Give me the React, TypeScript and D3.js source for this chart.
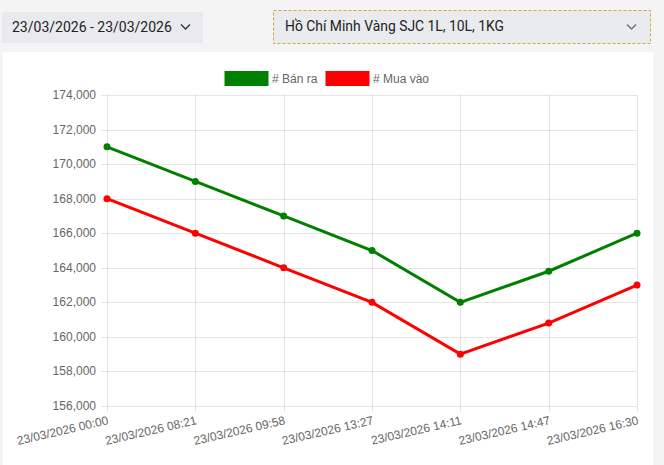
import React from "react";
import * as d3 from "d3";

const categories = [
  "23/03/2026 00:00",
  "23/03/2026 08:21",
  "23/03/2026 09:58",
  "23/03/2026 13:27",
  "23/03/2026 14:11",
  "23/03/2026 14:47",
  "23/03/2026 16:30",
];
const banRa = [171000, 169000, 167000, 165000, 162000, 163800, 166000];
const muaVao = [168000, 166000, 164000, 162000, 159000, 160800, 163000];
const yTicks = [156000, 158000, 160000, 162000, 164000, 166000, 168000, 170000, 172000, 174000];
const seriesNames = ["# Bán ra", "# Mua vào"];
const seriesColors = ["#008000", "#ff0000"];
const dateRange = "23/03/2026 - 23/03/2026";
const selectText = "Hồ Chí Minh Vàng SJC 1L, 10L, 1KG";

export default function App() {
  const W = 664, H = 465;
  const left = 107, right = 637, top = 95, bottom = 406;
  const x = d3.scalePoint<string>().domain(categories).range([left, right]);
  const y = d3.scaleLinear().domain([156000, 174000]).range([bottom, top]);
  const fmt = d3.format(",");
  const line = d3.line<number>().x((_, i) => x(categories[i])!).y((d) => y(d));
  const series = [banRa, muaVao];
  const font = "'Liberation Sans', Arial, sans-serif";

  return (
    <svg width={W} height={H} style={{ position: "absolute", left: 0, top: 0 }}>
      <rect x={0} y={0} width={W} height={H} fill="#f4f4f4" />
      {/* top controls */}
      <rect x={2} y={12} width={201} height={31} fill="#e9eaee" />
      <text x={12} y={32} fontFamily="Roboto, sans-serif" fontSize={14} fill="#222">{dateRange}</text>
      <path d="M181,24.5 L185.5,29 L190,24.5" fill="none" stroke="#333" strokeWidth={1.3} />
      <rect x={273.5} y={10.5} width={377} height={33} fill="#eaebee" stroke="#d9a441" strokeDasharray="3,2" />
      <text x={285} y={31} fontFamily="Roboto, sans-serif" fontSize={13.9} fill="#222">{selectText}</text>
      <path d="M627,24.5 L631.5,29 L636,24.5" fill="none" stroke="#777" strokeWidth={1.5} />
      {/* panel */}
      <rect x={3} y={52} width={650} height={H - 52} fill="#fff" />
      {/* legend */}
      {seriesNames.map((n, i) => {
        const lx = i === 0 ? 225 : 326;
        return (
          <g key={n}>
            <rect x={lx} y={71.5} width={43} height={14} fill={seriesColors[i]} stroke={seriesColors[i]} />
            <text x={lx + 47} y={82.5} fontFamily={font} fontSize={12} fill="#666">{n}</text>
          </g>
        );
      })}
      {/* grid */}
      {yTicks.map((t) => (
        <g key={t}>
          <line x1={left - 6} x2={right} y1={Math.round(y(t)) + 0.5} y2={Math.round(y(t)) + 0.5} stroke="rgba(0,0,0,0.1)" />
          <text x={left - 11} y={y(t) + 4} textAnchor="end" fontFamily={font} fontSize={12} fill="#666">{fmt(t)}</text>
        </g>
      ))}
      {categories.map((c) => {
        const cx = Math.round(x(c)!) + 0.5;
        return (
          <g key={c}>
            <line x1={cx} x2={cx} y1={top} y2={bottom + 6} stroke="rgba(0,0,0,0.1)" />
            <text
              transform={`translate(${x(c)! + 2},${bottom + 18}) rotate(-13)`}
              textAnchor="end"
              fontFamily={font}
              fontSize={12}
              fill="#666"
            >{c}</text>
          </g>
        );
      })}
      {/* lines */}
      {series.map((s, i) => (
        <g key={i}>
          <path d={line(s)!} fill="none" stroke={seriesColors[i]} strokeWidth={3} />
          {s.map((v, j) => (
            <circle key={j} cx={x(categories[j])!} cy={y(v)} r={3.5} fill={seriesColors[i]} />
          ))}
        </g>
      ))}
    </svg>
  );
}
